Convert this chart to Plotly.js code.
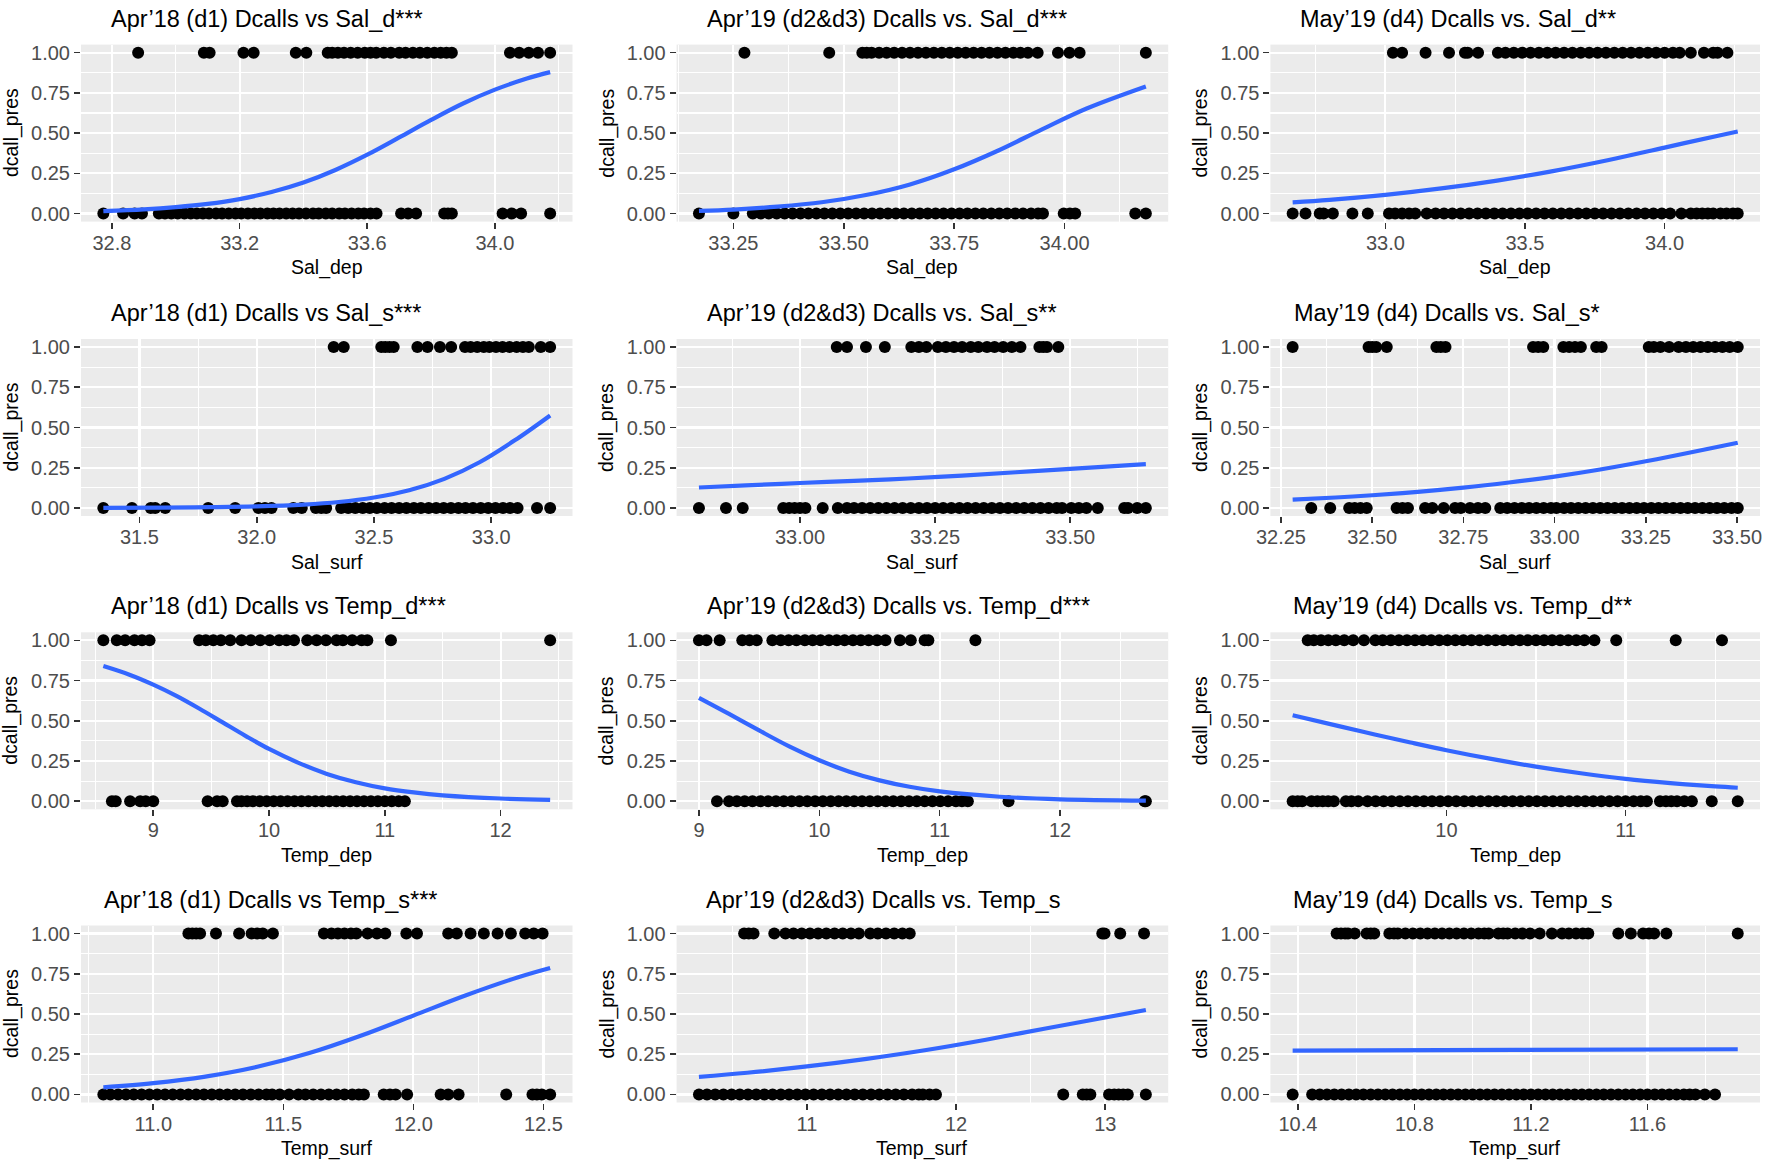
<!DOCTYPE html>
<html><head><meta charset="utf-8">
<script src="https://cdn.plot.ly/plotly-3.0.1.min.js"></script>
<style>html,body{margin:0;padding:0;background:#fff}#chart{width:1772px;height:1160px}</style>
</head><body><div id="chart"></div>
<script>
// ---------- DATA ----------
const yTicks = [0, 0.25, 0.5, 0.75, 1];
const yLabels = ['0.00', '0.25', '0.50', '0.75', '1.00'];
const yTitle = 'dcall_pres';
const titles = [
  'Apr’18 (d1) Dcalls vs Sal_d***', 'Apr’19 (d2&amp;d3) Dcalls vs. Sal_d***', 'May’19 (d4) Dcalls vs. Sal_d**',
  'Apr’18 (d1) Dcalls vs Sal_s***', 'Apr’19 (d2&amp;d3) Dcalls vs. Sal_s**', 'May’19 (d4) Dcalls vs. Sal_s*',
  'Apr’18 (d1) Dcalls vs Temp_d***', 'Apr’19 (d2&amp;d3) Dcalls vs. Temp_d***', 'May’19 (d4) Dcalls vs. Temp_d**',
  'Apr’18 (d1) Dcalls vs Temp_s***', 'Apr’19 (d2&amp;d3) Dcalls vs. Temp_s', 'May’19 (d4) Dcalls vs. Temp_s'
];
const xTitles = ['Sal_dep', 'Sal_dep', 'Sal_dep', 'Sal_surf', 'Sal_surf', 'Sal_surf',
  'Temp_dep', 'Temp_dep', 'Temp_dep', 'Temp_surf', 'Temp_surf', 'Temp_surf'];

// Panel 1: Apr'18 Sal_dep
const p1_ticks = [32.8, 33.2, 33.6, 34.0];
const p1_labels = ['32.8', '33.2', '33.6', '34.0'];
const p1_pres = [32.882, 33.088, 33.106, 33.212, 33.244, 33.376, 33.409, 33.476, 33.49, 33.508, 33.527, 33.548, 33.57, 33.592, 33.61, 33.628, 33.652, 33.674, 33.70, 33.72, 33.743, 33.765, 33.788, 33.81, 33.83, 33.848, 33.865, 34.047, 34.076, 34.106, 34.135, 34.173];
const p1_abs = [32.773, 32.835, 32.871, 32.894, 32.947, 32.966, 32.986, 33.006, 33.027, 33.047, 33.066, 33.085, 33.104, 33.126, 33.145, 33.166, 33.187, 33.205, 33.226, 33.246, 33.265, 33.287, 33.306, 33.325, 33.346, 33.366, 33.386, 33.408, 33.43, 33.448, 33.47, 33.49, 33.512, 33.53, 33.551, 33.572, 33.59, 33.61, 33.629, 33.706, 33.728, 33.753, 33.841, 33.853, 33.865, 34.024, 34.053, 34.082, 34.173];
const p1_cx = [32.773, 32.9, 33.0, 33.1, 33.2, 33.3, 33.4, 33.5, 33.6, 33.7, 33.8, 33.9, 34.0, 34.1, 34.173];
const p1_cy = [0.015, 0.026, 0.040, 0.060, 0.090, 0.134, 0.193, 0.271, 0.366, 0.473, 0.582, 0.684, 0.770, 0.839, 0.879];

// Panel 2: Apr'19 Sal_dep
const p2_ticks = [33.25, 33.5, 33.75, 34.0];
const p2_labels = ['33.25', '33.50', '33.75', '34.00'];
const p2_pres = [33.275, 33.467, 33.542, 33.552, 33.563, 33.58, 33.597, 33.614, 33.632, 33.65, 33.668, 33.686, 33.704, 33.722, 33.74, 33.758, 33.776, 33.794, 33.812, 33.83, 33.848, 33.866, 33.884, 33.90, 33.917, 33.939, 33.985, 34.011, 34.034, 34.184];
const p2_abs = [33.172, 33.25, 33.294, 33.312, 33.33, 33.348, 33.366, 33.384, 33.402, 33.42, 33.438, 33.456, 33.474, 33.492, 33.51, 33.528, 33.546, 33.564, 33.582, 33.60, 33.618, 33.636, 33.654, 33.672, 33.69, 33.708, 33.726, 33.744, 33.762, 33.78, 33.798, 33.816, 33.834, 33.852, 33.87, 33.888, 33.906, 33.924, 33.94, 33.951, 33.998, 34.012, 34.024, 34.160, 34.184];
const p2_cx = [33.172, 33.25, 33.35, 33.45, 33.55, 33.65, 33.75, 33.85, 33.95, 34.05, 34.184];
const p2_cy = [0.017, 0.025, 0.043, 0.070, 0.115, 0.181, 0.275, 0.392, 0.525, 0.653, 0.79];

// Panel 3: May'19 Sal_dep
const p3_ticks = [33.0, 33.5, 34.0];
const p3_labels = ['33.0', '33.5', '34.0'];
const p3_pres = [33.027, 33.060, 33.144, 33.228, 33.285, 33.295, 33.332, 33.403, 33.43, 33.46, 33.49, 33.52, 33.55, 33.58, 33.61, 33.64, 33.67, 33.70, 33.73, 33.76, 33.79, 33.82, 33.85, 33.88, 33.91, 33.94, 33.97, 34.0, 34.03, 34.054, 34.094, 34.141, 34.174, 34.19, 34.225];
const p3_abs = [32.668, 32.714, 32.765, 32.779, 32.812, 32.882, 32.937, 33.013, 33.035, 33.06, 33.085, 33.107, 33.148, 33.18, 33.21, 33.24, 33.27, 33.30, 33.33, 33.36, 33.39, 33.42, 33.45, 33.48, 33.51, 33.54, 33.57, 33.60, 33.63, 33.66, 33.69, 33.72, 33.75, 33.78, 33.81, 33.84, 33.87, 33.90, 33.93, 33.96, 33.99, 34.02, 34.06, 34.094, 34.115, 34.135, 34.155, 34.174, 34.20, 34.222, 34.245, 34.262];
const p3_cx = [32.668, 32.8, 33.0, 33.2, 33.4, 33.6, 33.8, 34.0, 34.2, 34.262];
const p3_cy = [0.070, 0.085, 0.116, 0.156, 0.205, 0.264, 0.333, 0.41, 0.487, 0.51];

// Panel 4: Apr'18 Sal_surf
const p4_ticks = [31.5, 32.0, 32.5, 33.0];
const p4_labels = ['31.5', '32.0', '32.5', '33.0'];
const p4_pres = [32.328, 32.371, 32.531, 32.548, 32.566, 32.584, 32.685, 32.728, 32.781, 32.829, 32.888, 32.912, 32.94, 32.968, 32.992, 33.02, 33.048, 33.078, 33.108, 33.135, 33.16, 33.211, 33.251];
const p4_abs = [31.346, 31.468, 31.548, 31.567, 31.61, 31.793, 31.908, 32.007, 32.035, 32.063, 32.156, 32.192, 32.252, 32.275, 32.296, 32.36, 32.39, 32.42, 32.452, 32.482, 32.512, 32.545, 32.575, 32.607, 32.638, 32.67, 32.70, 32.733, 32.765, 32.797, 32.828, 32.86, 32.89, 32.922, 32.955, 32.987, 33.018, 33.05, 33.08, 33.112, 33.195, 33.251];
const p4_cx = [31.346, 31.6, 31.8, 32.0, 32.2, 32.35, 32.5, 32.65, 32.8, 32.95, 33.1, 33.251];
const p4_cy = [0.001, 0.002, 0.005, 0.01, 0.021, 0.037, 0.065, 0.11, 0.181, 0.284, 0.42, 0.575];

// Panel 5: Apr'19 Sal_surf
const p5_ticks = [33.0, 33.25, 33.5];
const p5_labels = ['33.00', '33.25', '33.50'];
const p5_pres = [33.068, 33.087, 33.122, 33.157, 33.206, 33.22, 33.234, 33.255, 33.27, 33.285, 33.30, 33.316, 33.33, 33.346, 33.36, 33.376, 33.392, 33.408, 33.443, 33.45, 33.457, 33.478];
const p5_abs = [32.813, 32.863, 32.894, 32.969, 32.98, 32.99, 33.0, 33.01, 33.042, 33.07, 33.087, 33.10, 33.115, 33.13, 33.145, 33.16, 33.175, 33.19, 33.205, 33.22, 33.235, 33.25, 33.265, 33.28, 33.295, 33.31, 33.325, 33.34, 33.355, 33.37, 33.385, 33.40, 33.415, 33.43, 33.445, 33.46, 33.475, 33.485, 33.502, 33.516, 33.53, 33.551, 33.60, 33.607, 33.624, 33.640];
const p5_cx = [32.813, 32.9, 33.0, 33.1, 33.2, 33.3, 33.4, 33.5, 33.64];
const p5_cy = [0.127, 0.14, 0.155, 0.168, 0.183, 0.201, 0.222, 0.243, 0.272];

// Panel 6: May'19 Sal_surf
const p6_ticks = [32.25, 32.5, 32.75, 33.0, 33.25, 33.5];
const p6_labels = ['32.25', '32.50', '32.75', '33.00', '33.25', '33.50'];
const p6_pres = [32.282, 32.49, 32.50, 32.511, 32.540, 32.676, 32.688, 32.701, 32.941, 32.955, 32.969, 33.024, 33.04, 33.056, 33.072, 33.114, 33.129, 33.258, 33.272, 33.29, 33.314, 33.34, 33.36, 33.38, 33.40, 33.42, 33.44, 33.46, 33.48, 33.502];
const p6_abs = [32.333, 32.385, 32.437, 32.452, 32.468, 32.485, 32.567, 32.583, 32.598, 32.645, 32.665, 32.696, 32.727, 32.743, 32.768, 32.79, 32.81, 32.851, 32.87, 32.89, 32.91, 32.93, 32.95, 32.97, 32.99, 33.005, 33.026, 33.045, 33.065, 33.085, 33.105, 33.125, 33.145, 33.165, 33.185, 33.205, 33.225, 33.245, 33.265, 33.285, 33.305, 33.325, 33.345, 33.365, 33.385, 33.405, 33.425, 33.445, 33.465, 33.485, 33.502];
const p6_cx = [32.282, 32.4, 32.5, 32.625, 32.75, 32.875, 33.0, 33.125, 33.25, 33.375, 33.502];
const p6_cy = [0.052, 0.065, 0.079, 0.10, 0.126, 0.158, 0.195, 0.239, 0.29, 0.346, 0.405];

// Panel 7: Apr'18 Temp_dep
const p7_ticks = [9, 10, 11, 12];
const p7_labels = ['9', '10', '11', '12'];
const p7_pres = [8.569, 8.685, 8.757, 8.838, 8.903, 8.968, 9.396, 9.454, 9.519, 9.584, 9.665, 9.762, 9.843, 9.924, 10.006, 10.087, 10.151, 10.216, 10.33, 10.411, 10.492, 10.583, 10.638, 10.719, 10.80, 10.849, 11.053, 12.428];
const p7_abs = [8.643, 8.676, 8.80, 8.887, 8.935, 9.0, 9.47, 9.551, 9.60, 9.723, 9.762, 9.811, 9.86, 9.92, 9.98, 10.04, 10.10, 10.16, 10.22, 10.28, 10.34, 10.40, 10.46, 10.52, 10.58, 10.64, 10.70, 10.76, 10.82, 10.88, 10.94, 11.00, 11.06, 11.12, 11.173];
const p7_cx = [8.569, 8.8, 9.0, 9.2, 9.4, 9.6, 9.8, 10.0, 10.25, 10.5, 10.75, 11.0, 11.25, 11.5, 12.0, 12.428];
const p7_cy = [0.84, 0.785, 0.725, 0.655, 0.575, 0.49, 0.405, 0.325, 0.24, 0.17, 0.118, 0.08, 0.055, 0.037, 0.017, 0.009];

// Panel 8: Apr'19 Temp_dep
const p8_ticks = [9, 10, 11, 12];
const p8_labels = ['9', '10', '11', '12'];
const p8_pres = [9.0, 9.063, 9.172, 9.36, 9.42, 9.48, 9.61, 9.68, 9.745, 9.81, 9.88, 9.945, 10.01, 10.08, 10.145, 10.21, 10.28, 10.345, 10.41, 10.48, 10.55, 10.67, 10.76, 10.875, 10.906, 11.297];
const p8_abs = [9.15, 9.25, 9.315, 9.38, 9.445, 9.51, 9.575, 9.64, 9.705, 9.77, 9.835, 9.90, 9.965, 10.03, 10.095, 10.16, 10.225, 10.29, 10.355, 10.42, 10.485, 10.55, 10.615, 10.68, 10.745, 10.81, 10.875, 10.94, 11.005, 11.07, 11.135, 11.185, 11.234, 11.572, 12.703, 12.713];
const p8_cx = [9.0, 9.25, 9.5, 9.75, 10.0, 10.25, 10.5, 10.75, 11.0, 11.5, 12.0, 12.713];
const p8_cy = [0.643, 0.543, 0.44, 0.341, 0.255, 0.184, 0.13, 0.09, 0.061, 0.028, 0.012, 0.004];

// Panel 9: May'19 Temp_dep
const p9_ticks = [10, 11];
const p9_labels = ['10', '11'];
const p9_pres = [9.226, 9.26, 9.30, 9.341, 9.383, 9.43, 9.48, 9.54, 9.603, 9.645, 9.69, 9.735, 9.78, 9.825, 9.87, 9.915, 9.96, 10.005, 10.05, 10.095, 10.14, 10.185, 10.23, 10.275, 10.32, 10.365, 10.41, 10.455, 10.50, 10.545, 10.59, 10.635, 10.68, 10.725, 10.77, 10.826, 10.948, 11.28, 11.538];
const p9_abs = [9.142, 9.17, 9.195, 9.247, 9.28, 9.31, 9.34, 9.372, 9.439, 9.47, 9.508, 9.56, 9.605, 9.65, 9.695, 9.74, 9.785, 9.83, 9.875, 9.92, 9.965, 10.01, 10.055, 10.10, 10.145, 10.19, 10.235, 10.28, 10.325, 10.37, 10.415, 10.46, 10.505, 10.55, 10.595, 10.64, 10.685, 10.73, 10.775, 10.82, 10.865, 10.91, 10.955, 11.0, 11.045, 11.085, 11.119, 11.192, 11.225, 11.255, 11.287, 11.328, 11.37, 11.481, 11.626];
const p9_cx = [9.142, 9.4, 9.6, 9.8, 10.0, 10.25, 10.5, 10.75, 11.0, 11.25, 11.5, 11.626];
const p9_cy = [0.535, 0.467, 0.415, 0.365, 0.317, 0.263, 0.215, 0.174, 0.139, 0.113, 0.092, 0.084];

// Panel 10: Apr'18 Temp_surf
const p10_ticks = [11.0, 11.5, 12.0, 12.5];
const p10_labels = ['11.0', '11.5', '12.0', '12.5'];
const p10_pres = [11.135, 11.15, 11.165, 11.18, 11.241, 11.33, 11.378, 11.40, 11.421, 11.46, 11.656, 11.685, 11.71, 11.735, 11.76, 11.781, 11.824, 11.86, 11.892, 11.973, 12.014, 12.134, 12.167, 12.22, 12.271, 12.324, 12.375, 12.43, 12.463, 12.497];
const p10_abs = [10.808, 10.835, 10.865, 10.895, 10.925, 10.955, 10.985, 11.015, 11.045, 11.075, 11.105, 11.135, 11.165, 11.195, 11.225, 11.255, 11.285, 11.315, 11.345, 11.375, 11.405, 11.435, 11.457, 11.486, 11.522, 11.558, 11.585, 11.615, 11.645, 11.675, 11.705, 11.735, 11.765, 11.79, 11.81, 11.886, 11.91, 11.932, 11.976, 12.105, 12.134, 12.174, 12.357, 12.458, 12.475, 12.494, 12.526];
const p10_cx = [10.808, 11.0, 11.2, 11.4, 11.6, 11.8, 12.0, 12.2, 12.4, 12.526];
const p10_cy = [0.044, 0.07, 0.111, 0.172, 0.257, 0.366, 0.49, 0.615, 0.727, 0.786];

// Panel 11: Apr'19 Temp_surf
const p11_ticks = [11, 12, 13];
const p11_labels = ['11', '12', '13'];
const p11_pres = [10.579, 10.61, 10.642, 10.781, 10.856, 10.91, 10.965, 11.02, 11.075, 11.13, 11.185, 11.24, 11.295, 11.348, 11.424, 11.475, 11.53, 11.585, 11.64, 11.689, 12.98, 12.995, 13.10, 13.26];
const p11_abs = [10.276, 10.33, 10.385, 10.44, 10.495, 10.55, 10.605, 10.66, 10.715, 10.77, 10.825, 10.88, 10.935, 10.99, 11.045, 11.10, 11.155, 11.21, 11.265, 11.32, 11.375, 11.43, 11.485, 11.54, 11.595, 11.65, 11.705, 11.75, 11.777, 11.822, 11.865, 12.718, 12.849, 12.875, 12.9, 13.025, 13.06, 13.09, 13.12, 13.151, 13.272];
const p11_cx = [10.276, 10.6, 11.0, 11.4, 11.8, 12.2, 12.6, 13.0, 13.272];
const p11_cy = [0.109, 0.135, 0.174, 0.221, 0.276, 0.34, 0.41, 0.478, 0.525];

// Panel 12: May'19 Temp_surf
const p12_ticks = [10.4, 10.8, 11.2, 11.6];
const p12_labels = ['10.4', '10.8', '11.2', '11.6'];
const p12_pres = [10.533, 10.548, 10.562, 10.572, 10.595, 10.636, 10.65, 10.662, 10.714, 10.73, 10.743, 10.769, 10.795, 10.82, 10.845, 10.87, 10.895, 10.92, 10.945, 10.97, 10.995, 11.02, 11.04, 11.055, 11.088, 11.105, 11.12, 11.146, 11.17, 11.197, 11.23, 11.272, 11.307, 11.33, 11.355, 11.378, 11.397, 11.5, 11.543, 11.585, 11.605, 11.623, 11.665, 11.91];
const p12_abs = [10.382, 10.449, 10.475, 10.50, 10.525, 10.55, 10.575, 10.60, 10.625, 10.65, 10.675, 10.70, 10.725, 10.75, 10.775, 10.80, 10.825, 10.85, 10.875, 10.90, 10.925, 10.95, 10.975, 11.0, 11.025, 11.05, 11.075, 11.10, 11.125, 11.15, 11.175, 11.20, 11.225, 11.25, 11.275, 11.30, 11.325, 11.35, 11.375, 11.40, 11.425, 11.45, 11.475, 11.50, 11.525, 11.55, 11.575, 11.60, 11.625, 11.65, 11.675, 11.70, 11.725, 11.745, 11.765, 11.797, 11.832];
const p12_cx = [10.382, 11.15, 11.91];
const p12_cy = [0.273, 0.277, 0.281];

const panels = [
  [p1_pres, p1_abs, p1_cx, p1_cy, p1_ticks, p1_labels],
  [p2_pres, p2_abs, p2_cx, p2_cy, p2_ticks, p2_labels],
  [p3_pres, p3_abs, p3_cx, p3_cy, p3_ticks, p3_labels],
  [p4_pres, p4_abs, p4_cx, p4_cy, p4_ticks, p4_labels],
  [p5_pres, p5_abs, p5_cx, p5_cy, p5_ticks, p5_labels],
  [p6_pres, p6_abs, p6_cx, p6_cy, p6_ticks, p6_labels],
  [p7_pres, p7_abs, p7_cx, p7_cy, p7_ticks, p7_labels],
  [p8_pres, p8_abs, p8_cx, p8_cy, p8_ticks, p8_labels],
  [p9_pres, p9_abs, p9_cx, p9_cy, p9_ticks, p9_labels],
  [p10_pres, p10_abs, p10_cx, p10_cy, p10_ticks, p10_labels],
  [p11_pres, p11_abs, p11_cx, p11_cy, p11_ticks, p11_labels],
  [p12_pres, p12_abs, p12_cx, p12_cy, p12_ticks, p12_labels]
];

// ---------- LAYOUT / STYLE ----------
const W = 1772, H = 1160;
const FONT = 'Liberation Sans, Arial, Helvetica, sans-serif';
const colLeft = [81, 676.6, 1270.4], colRight = [572.5, 1168.2, 1760];
const rowTop = [44.6, 339, 632.3, 925.5], rowH = 177;
const titleLeft = [109.2, 704.9, 1297.5, 109.2, 704.9, 1292.2, 109.2, 704.9, 1291.1, 101.7, 704.1, 1291.1];

const traces = [];
const layout = {
  width: W, height: H,
  margin: {l: 0, r: 0, t: 0, b: 0},
  paper_bgcolor: '#FFFFFF', plot_bgcolor: '#EBEBEB',
  showlegend: false,
  font: {family: FONT, color: '#000000'},
  annotations: []
};

panels.forEach((p, i) => {
  const [pres, abs, cx, cy, ticks, labels] = p;
  const r = Math.floor(i / 3), c = i % 3;
  const n = i === 0 ? '' : String(i + 1);
  const xa = 'x' + n, ya = 'y' + n;
  traces.push({type: 'scatter', mode: 'markers', x: pres, y: pres.map(() => 1), xaxis: xa, yaxis: ya,
    marker: {color: '#000000', size: 12}, hoverinfo: 'skip', cliponaxis: false});
  traces.push({type: 'scatter', mode: 'markers', x: abs, y: abs.map(() => 0), xaxis: xa, yaxis: ya,
    marker: {color: '#000000', size: 12}, hoverinfo: 'skip', cliponaxis: false});
  traces.push({type: 'scatter', mode: 'lines', x: cx, y: cy, xaxis: xa, yaxis: ya,
    line: {color: '#3366FF', width: 4.2, shape: 'spline', smoothing: 1}, hoverinfo: 'skip'});

  const all = pres.concat(abs);
  const mn = Math.min(...all), mx = Math.max(...all);
  const pad = 0.05 * (mx - mn);
  const step = ticks[1] - ticks[0];
  const axCommon = {
    ticks: 'outside', ticklen: 6, tickwidth: 1.6, tickcolor: '#333333',
    tickfont: {family: FONT, size: 20, color: '#4D4D4D'},
    showgrid: true, gridcolor: '#FFFFFF', gridwidth: 2.2,
    zeroline: false, showline: false, fixedrange: true
  };
  layout['xaxis' + n] = Object.assign({}, axCommon, {
    domain: [colLeft[c] / W, colRight[c] / W], anchor: ya,
    range: [mn - pad, mx + pad], tickmode: 'array', tickvals: ticks, ticktext: labels,
    ticklabelstandoff: -3,
    minor: {tick0: ticks[0], dtick: step / 2, showgrid: true, gridcolor: '#FFFFFF', gridwidth: 1.1}
  });
  layout['yaxis' + n] = Object.assign({}, axCommon, {
    domain: [1 - (rowTop[r] + rowH) / H, 1 - rowTop[r] / H], anchor: xa,
    range: [-0.05, 1.05], tickmode: 'array', tickvals: yTicks, ticktext: yLabels,
    minor: {tick0: 0, dtick: 0.125, showgrid: true, gridcolor: '#FFFFFF', gridwidth: 1.1}
  });
  // panel title
  layout.annotations.push({xref: 'paper', yref: 'paper', x: titleLeft[i] / W, y: 1 - (rowTop[r] - 26) / H,
    xanchor: 'left', yanchor: 'middle', showarrow: false, text: titles[i],
    font: {family: FONT, size: 23.5, color: '#000000'}});
  // x axis title
  layout.annotations.push({xref: 'paper', yref: 'paper', x: (colLeft[c] + colRight[c]) / 2 / W,
    y: 1 - (rowTop[r] + rowH + 46) / H, xanchor: 'center', yanchor: 'middle', showarrow: false,
    text: xTitles[i], font: {family: FONT, size: 19.5, color: '#000000'}});
  // y axis title
  layout.annotations.push({xref: 'paper', yref: 'paper', x: (colLeft[c] - 70) / W,
    y: 1 - (rowTop[r] + rowH / 2) / H, xanchor: 'center', yanchor: 'middle', showarrow: false,
    textangle: -90, text: yTitle, font: {family: FONT, size: 19.5, color: '#000000'}});
});

Plotly.newPlot('chart', traces, layout, {displayModeBar: false, staticPlot: true});
</script></body></html>
